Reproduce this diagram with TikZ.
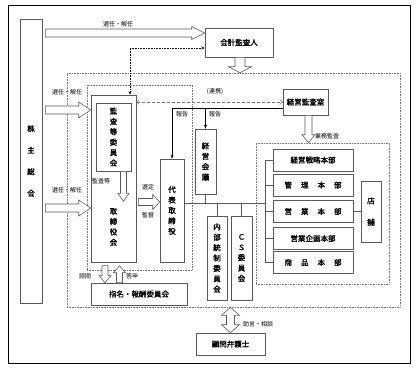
\documentclass[tikz,border=0pt]{standalone}
\usepackage{fontspec}
\newfontfamily\jp{Noto Sans CJK JP}[AutoFakeBold=1.6]
\usetikzlibrary{calc,arrows.meta}
\definecolor{boxgray}{gray}{0.35}
\definecolor{dotgray}{gray}{0.45}

\newcommand\fatarrow[5]{%
  \draw[hollow] let \p1=#1, \p2=#2,
    \n1={atan2(\y2-\y1,\x2-\x1)}, \n2={veclen(\x2-\x1,\y2-\y1)} in
    [shift={(\p1)},rotate=\n1]
    (0pt,-#3) -- ({\n2-#5},-#3) -- ({\n2-#5},-#4) -- ({\n2+0pt},0pt)
    -- ({\n2-#5},#4) -- ({\n2-#5},#3) -- (0pt,#3) -- cycle;}
\newcommand\twinarrow[5]{%
  \draw[hollow] let \p1=#1, \p2=#2,
    \n1={atan2(\y2-\y1,\x2-\x1)}, \n2={veclen(\x2-\x1,\y2-\y1)} in
    [shift={(\p1)},rotate=\n1]
    (#5,-#3) -- ({\n2-#5},-#3) -- ({\n2-#5},-#4) -- ({\n2+0pt},0pt)
    -- ({\n2-#5},#4) -- ({\n2-#5},#3) -- (#5,#3) -- (#5,#4) -- (0pt,0pt)
    -- (#5,-#4) -- cycle;}

\begin{document}
\begin{tikzpicture}[x=1pt,y=-1pt,
  box/.style={draw=boxgray,fill=white,line width=0.6pt,inner sep=0pt,align=center,
    font=\jp\bfseries\fontsize{7.5}{10.4}\selectfont},
  wide/.style={font=\jp\bfseries\fontsize{7.5}{21.5}\selectfont},
  vtext/.style={inner sep=0pt,align=center,font=\jp\bfseries\fontsize{7.5}{10.4}\selectfont},
  dept/.style={box,minimum width=80pt,minimum height=22pt},
  dotbox/.style={draw=dotgray,densely dotted,line width=0.6pt,inner sep=0pt},
  hollow/.style={draw=boxgray,fill=white,line width=0.6pt,line join=miter},
  lab/.style={inner sep=0pt,font=\jp\fontsize{6}{7}\selectfont},
  report/.style={line width=0.6pt,-{Stealth[length=4pt,width=3pt]}},
  tree/.style={draw=boxgray,line width=0.6pt},
  link/.style={draw=dotgray,densely dashed,line width=0.5pt,
    {Straight Barb[length=2.5pt,width=5pt]}-{Straight Barb[length=2.5pt,width=5pt]}},
  audit/.style={densely dotted,line width=0.6pt,
    {Stealth[length=3.5pt,width=3pt]}-{Stealth[length=3.5pt,width=3pt]}}]
\useasboundingbox (0,0) rectangle (418,383);
\draw[line width=1pt] (8,5) rectangle (410,363);

\node[dotbox,minimum width=333pt,minimum height=234pt] (group) at (233.5,190) {};
\node[dotbox,minimum width=105pt,minimum height=185pt] (board) at (139.5,177.5) {};
\node[dotbox,minimum width=133pt,minimum height=141pt] (divs) at (322.5,213.5) {};

\node[box,wide,minimum width=22pt,minimum height=284pt] (kabu) at (31,161) {株\\主\\総\\会};
\node[box,minimum width=68pt,minimum height=29pt] (kaikei) at (239,42.5) {会計監査人};
\node[box,minimum width=45pt,minimum height=167pt] (torishimari) at (113.5,178.5) {};
\node[vtext] (torilabel) at (113.5,227) {取\\締\\役\\会};
\node[box,minimum width=35pt,minimum height=68pt] (kansa) at (113.5,137) {監\\査\\等\\委\\員\\会};
\node[box,minimum width=24pt,minimum height=103pt] (daihyo) at (172,210.5) {代\\表\\取\\締\\役};
\node[box,minimum width=45pt,minimum height=26pt] (keieikansa) at (305.5,102) {経営監査室};
\node[box,minimum width=21pt,minimum height=65pt] (keieikaigi) at (205.5,161.5) {経\\営\\会\\議};
\node[box,minimum width=20pt,minimum height=84pt] (naibu) at (217,258) {内\\部\\統\\制\\委\\員\\会};
\node[box,minimum width=21pt,minimum height=84pt] (cs) at (241.5,258) {Ｃ\\Ｓ\\委\\員\\会};
\node[dept] (senryaku) at (313,160) {経営戦略本部};
\node[dept] (kanri) at (313,185) {管\hspace{9pt}理\hspace{9pt}本\hspace{9pt}部};
\node[dept] (eigyo) at (313,211.5) {営\hspace{9pt}業\hspace{9pt}本\hspace{9pt}部};
\node[dept] (kikaku) at (313,238.5) {営業企画本部};
\node[dept] (shohin) at (313,262.5) {商\hspace{9pt}品\hspace{9pt}本\hspace{9pt}部};
\node[box,wide,minimum width=20pt,minimum height=61pt] (tenpo) at (371,211.5) {店\\舗};
\node[box,minimum width=96pt,minimum height=22pt] (shimei) at (139,294) {指名・報酬委員会};
\node[box,minimum width=69pt,minimum height=22pt] (komon) at (230.5,344) {顧問弁護士};

\fatarrow{($(kabu.east|-0,33)+(3,0)$)}{(kaikei.west|-0,33)}{4pt}{6.5pt}{13pt}
\fatarrow{($(kabu.east|-0,110)+(3,0)$)}{(torishimari.west|-0,110)}{4pt}{8pt}{12pt}
\fatarrow{($(kabu.east|-0,208)+(3,0)$)}{(torishimari.west|-0,208)}{4pt}{8pt}{12pt}
\fatarrow{($(kaikei.south)+(1,0)$)}{($(kaikei.south|-group.north)+(1,0)$)}{5pt}{11.5pt}{6pt}
\fatarrow{($(kansa.south)+(10,0)$)}{($(kansa.south)+(10,30)$)}{3pt}{5.5pt}{8pt}
\fatarrow{($(torishimari.east|-0,202)+(2,0)$)}{(daihyo.west|-0,202)}{3.5pt}{7.5pt}{7pt}
\fatarrow{($(keieikansa.south)+(3,0)$)}{($(keieikansa.south|-divs.north)+(3,0)$)}{3.5pt}{6.5pt}{8pt}
\fatarrow{($(shimei.north)+(-34,-17)$)}{($(shimei.north)+(-34,0)$)}{3pt}{6pt}{7pt}
\fatarrow{($(shimei.north)+(-19.5,0)$)}{($(shimei.north)+(-19.5,-17)$)}{3pt}{6pt}{7pt}
\twinarrow{(komon.north|-group.south)}{(komon.north)}{4pt}{9pt}{8pt}

\coordinate (audpt) at (130,48);
\draw[audit] (kaikei.west|-audpt) -| (audpt|-torishimari.north);
\draw[link] (torishimari.east|-keieikansa.west) -- (keieikansa.west);
\coordinate (rep) at ($(keieikansa.west)+(0,6)$);
\draw[report] (rep) -| (daihyo.north);
\draw[report] (rep-|keieikaigi.north) -- (keieikaigi.north);

\coordinate (bus) at (265,203);
\draw[tree] (daihyo.east|-bus) -- (bus);
\draw[tree] (keieikaigi.south) -- (keieikaigi.south|-bus);
\draw[tree] (naibu.north) -- (naibu.north|-bus);
\draw[tree] (cs.north) -- (cs.north|-bus);
\draw[tree] (senryaku.west-|bus) -- (shohin.west-|bus);
\foreach \d in {senryaku,kanri,eigyo,kikaku,shohin}
  {\draw[tree] (\d.west) -- (\d.west-|bus);}
\draw[tree] (eigyo.east) -- (tenpo.west);

\node[lab] (selA) at (118,24) {選任・解任};
\node[lab] (selB) at (67,92) {選任・解任};
\node[lab] (selC) at (67,190) {選任・解任};
\node[lab] (kansatou) at (101,181) {監査等};
\node[lab] (sentei) at (148,187) {選定};
\node[lab] (kantoku) at (148,215) {監督};
\node[lab] (renkei) at (215,92) {(連携)};
\node[lab] (hokokuA) at (182,114) {報告};
\node[lab] (hokokuB) at (215,114) {報告};
\node[lab] (gyomu) at (327,136) {業務監査};
\node[lab] (shimon) at (85,276) {諮問};
\node[lab] (toshin) at (132,276) {答申};
\node[lab] (jogen) at (258,324) {助言・相談};
\end{tikzpicture}
\end{document}
